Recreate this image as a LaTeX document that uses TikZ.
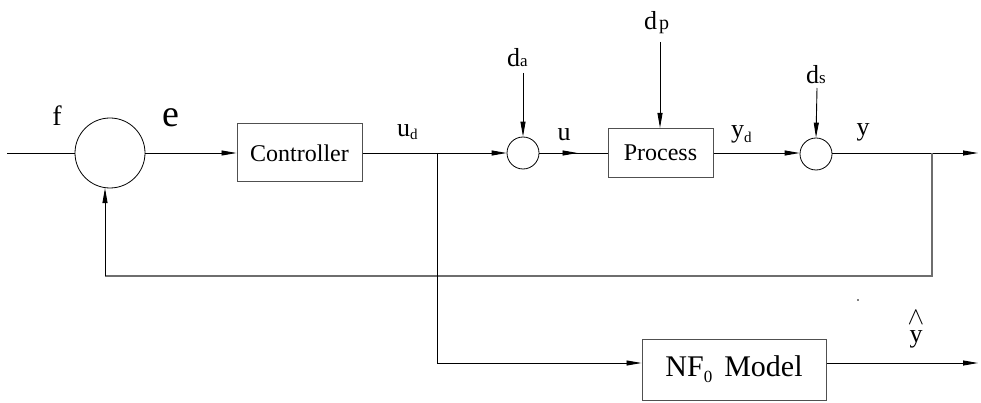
\documentclass[tikz,border=0pt]{standalone}
\usepackage{fontspec}
\setmainfont{Liberation Serif}
\usetikzlibrary{arrows.meta,decorations.markings}
\definecolor{fbgray}{RGB}{110,110,110}
\definecolor{boxgray}{RGB}{80,80,80}
\begin{document}
\begin{tikzpicture}[x=1pt,y=-1pt,
  ln/.style={line width=0.9pt},
  arr/.style={ln,-{Triangle[length=15pt,width=5pt]}},
  sumc/.style={circle,draw,line width=0.8pt,inner sep=0pt,minimum size=#1},
  blk/.style={draw=boxgray,line width=1pt,inner sep=0pt},
  lbl/.style={inner sep=0pt,font=\fontsize{26}{26}\selectfont},
  sub/.style={font=\fontsize{16}{16}\selectfont}
]
\useasboundingbox (0,0) rectangle (981,403);
% nodes
\node[sumc=70pt] (s1) at (110,153) {};
\node[blk,minimum width=125pt,minimum height=58pt,font=\fontsize{24}{24}\selectfont] (ctrl) at (299.5,153) {Controller};
\node[sumc=32pt] (s2) at (523,153) {};
\node[blk,minimum width=105pt,minimum height=49pt,font=\fontsize{24}{24}\selectfont] (proc) at (660.5,153) {\raisebox{-4pt}{Process}};
\node[sumc=32pt] (s3) at (816,154) {};
\node[blk,minimum width=184pt,minimum height=61pt,font=\fontsize{30}{30}\selectfont] (nf) at (734,369.5) {\raisebox{-3pt}{NF\raisebox{-6pt}{\fontsize{17}{17}\selectfont 0}\hspace{12pt}Model}};
% coordinates
\coordinate (in) at (7,153);
\coordinate (yout) at (978,153);
\coordinate (fbA) at (932,153);
\coordinate (fbB) at (932,276);
\coordinate (fbC) at (105,276);
\coordinate (b1) at (437,153);
\coordinate (b2) at (437,363);
\coordinate (hout) at (978,363);
\coordinate (da) at (523,73);
\coordinate (dp) at (660,42);
\coordinate (ds) at (817,88);
% connectors
\draw[ln] (in) -- (s1.west);
\draw[arr] (s1.east) -- (ctrl.west);
\draw[arr] (ctrl.east) -- (s2.west);
\draw[ln,postaction={decorate},decoration={markings,mark=at position 0.56 with {\arrow{Triangle[length=15pt,width=5pt]}}}] (s2.east) -- (proc.west);
\draw[arr] (proc.east) -- (s3.west |- proc.east);
\draw[arr] (s3.east |- proc.east) -- (yout);
\draw[arr] (da) -- (s2.north);
\draw[arr] (dp) -- (dp |- proc.north);
\draw[arr] (ds) -- (s3.north);
\draw[line width=1.2pt,fbgray] (fbA) -- (fbB) -- (fbC);
\draw[arr] (fbC) -- (fbC |- s1.-98);
\draw[ln] (b1) -- (b2);
\draw[arr] (b2) -- (b2 -| nf.west);
\draw[arr] (nf.east |- b2) -- (hout);
% labels
\node[lbl,font=\fontsize{28}{28}\selectfont] (lf) at (57,116) {f};
\node[lbl,font=\fontsize{38}{38}\selectfont] (le) at (171,118) {e};
\node[lbl,anchor=base west] (lud) at (397,137) {u\raisebox{-3pt}{\fontsize{15}{15}\selectfont d}};
\node[lbl,anchor=base west] (lda) at (507,67) {d\fontsize{17}{17}\selectfont a};
\node[lbl] (lu) at (564,135) {u};
\node[lbl,anchor=base west] (ldp) at (644,30) {d\hspace{2pt}\fontsize{20}{20}\selectfont p};
\node[lbl,anchor=base west] (lyd) at (731,138) {y\raisebox{-5pt}{\fontsize{15}{15}\selectfont d}};
\node[lbl,anchor=base west] (lds) at (806,84) {d\fontsize{17}{17}\selectfont s};
\node[lbl] (ly) at (863,132) {y};
\node[lbl,anchor=base] (lyh) at (916,342) {\shortstack{{\fontsize{30}{30}\selectfont$\wedge$}\\[3pt]y}};
\fill (858,300) circle (0.8pt);
\end{tikzpicture}
\end{document}
